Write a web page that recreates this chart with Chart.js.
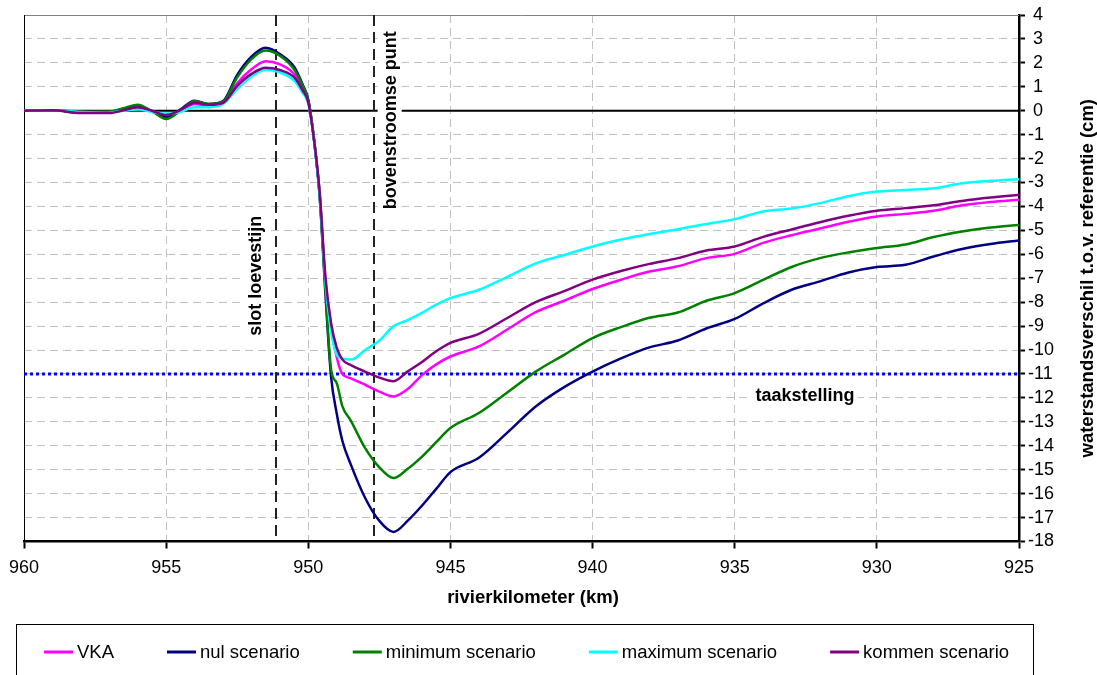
<!DOCTYPE html>
<html>
<head>
<meta charset="utf-8">
<script src="https://cdn.jsdelivr.net/npm/chart.js@4.4.1/dist/chart.umd.min.js"></script>
<style>
  body { margin: 0; background: #fff; }
  canvas { display: block; }
</style>
</head>
<body>
<canvas id="myChart" width="1097" height="675"></canvas>
<script>
const ctx = document.getElementById('myChart');

// rivierkilometer (x) and waterstandsverschil (cm) per scenario
const km = [960, 959, 958, 957, 956.5, 956, 955.5, 955, 954.5, 954, 953.5, 953, 952.5, 952, 951.5, 951,
    950.5, 950.2, 950, 949.8, 949.6, 949.4, 949.2, 949, 948.8, 948.5, 948, 947.5, 947, 946.5, 946, 945.5,
    945, 944, 943, 942, 941, 940, 939, 938, 937, 936, 935, 934, 933, 932, 931, 930, 929, 928, 927, 926, 925];

const vka = [0, 0.02, -0.05, -0.05, 0.05, 0.15, -0.02, -0.22, 0, 0.28, 0.22, 0.32, 1.15, 1.73, 2.07, 1.94,
    1.54, 0.95, 0.4, -1.2, -3.5, -7.1, -9.0, -10.3, -11.0, -11.18, -11.45, -11.74, -11.94, -11.63, -11.05, -10.6,
    -10.27, -9.85, -9.14, -8.42, -7.94, -7.45, -7.06, -6.72, -6.5, -6.16, -5.98, -5.52, -5.2, -4.92, -4.64, -4.42,
    -4.31, -4.18, -3.95, -3.81, -3.72];

const nul = [0, 0.02, -0.06, -0.05, 0.08, 0.2, -0.02, -0.28, 0.05, 0.42, 0.28, 0.4, 1.5, 2.26, 2.63, 2.37,
    1.84, 1.1, 0.45, -1.2, -3.6, -7.6, -11.1, -12.65, -13.8, -14.8, -16.18, -17.14, -17.6, -17.13, -16.5, -15.8,
    -15.1, -14.5, -13.45, -12.36, -11.55, -10.9, -10.35, -9.89, -9.6, -9.1, -8.7, -8.05, -7.48, -7.13, -6.76, -6.53,
    -6.44, -6.09, -5.78, -5.57, -5.42];

const minimum = [0, 0.02, -0.04, -0.03, 0.1, 0.25, -0.02, -0.35, 0, 0.4, 0.28, 0.38, 1.4, 2.16, 2.52, 2.3,
    1.73, 1.05, 0.45, -1.2, -3.5, -7.4, -10.8, -11.38, -12.35, -12.96, -14.1, -14.9, -15.35, -14.96, -14.45, -13.85,
    -13.26, -12.63, -11.77, -10.9, -10.2, -9.5, -9.04, -8.65, -8.43, -7.94, -7.62, -7.07, -6.53, -6.16, -5.92, -5.74,
    -5.59, -5.28, -5.05, -4.88, -4.77];

const maximum = [0, 0.02, -0.05, -0.08, 0, 0.05, -0.05, -0.12, -0.05, 0.15, 0.15, 0.28, 0.9, 1.43, 1.71, 1.6,
    1.26, 0.75, 0.3, -1.2, -3.5, -7.1, -9.2, -10.2, -10.35, -10.4, -10.0, -9.6, -9.0, -8.75, -8.45, -8.1,
    -7.83, -7.48, -6.94, -6.38, -6.03, -5.67, -5.38, -5.15, -4.95, -4.73, -4.53, -4.21, -4.09, -3.86, -3.57, -3.38,
    -3.31, -3.24, -3.03, -2.93, -2.86];

const kommen = [0, 0.02, -0.1, -0.1, 0.02, 0.15, 0, -0.18, 0.03, 0.33, 0.25, 0.33, 1.04, 1.54, 1.8, 1.7,
    1.4, 0.85, 0.35, -1.2, -3.4, -6.9, -8.87, -9.9, -10.4, -10.63, -10.9, -11.15, -11.3, -10.89, -10.5, -10.05,
    -9.7, -9.32, -8.66, -8.0, -7.54, -7.06, -6.7, -6.4, -6.16, -5.84, -5.67, -5.27, -4.96, -4.66, -4.39, -4.18,
    -4.07, -3.95, -3.77, -3.63, -3.52];

const seriesNames = ['VKA', 'nul scenario', 'minimum scenario', 'maximum scenario', 'kommen scenario'];
const seriesData = [vka, nul, minimum, maximum, kommen];
const seriesColors = ['#ff00ff', '#000080', '#008000', '#00ffff', '#800080'];

const slotKm = 951.15;      // slot loevestijn
const bovenKm = 947.7;      // bovenstroomse punt
const taakstelling = -11;

const font = '"Liberation Sans", Arial, sans-serif';

function rotatedLabel(c, text, cx, cy) {
    c.save();
    c.translate(cx, cy);
    c.rotate(-Math.PI / 2);
    c.font = 'bold 18px ' + font;
    const w = c.measureText(text).width;
    c.fillStyle = '#fff';
    c.fillRect(-w / 2 - 3, -12, w + 6, 24);
    c.fillStyle = '#000';
    c.textAlign = 'center';
    c.textBaseline = 'middle';
    c.fillText(text, 0, 1);
    c.restore();
}

const extras = {
    id: 'extras',
    beforeDatasetsDraw(chart) {
        const c = chart.ctx;
        const a = chart.chartArea;
        const x = chart.scales.x;
        const y = chart.scales.y;
        c.save();

        // top and left frame
        c.lineWidth = 1;
        c.strokeStyle = '#808080';
        c.beginPath();
        c.moveTo(a.left, a.top + 0.5);
        c.lineTo(a.right, a.top + 0.5);
        c.stroke();
        c.strokeStyle = '#000';
        c.beginPath();
        c.moveTo(a.left + 0.5, a.top);
        c.lineTo(a.left + 0.5, a.bottom);
        c.stroke();

        // zero line
        const y0 = y.getPixelForValue(0);
        c.lineWidth = 2;
        c.beginPath();
        c.moveTo(a.left, y0);
        c.lineTo(a.right, y0);
        c.stroke();

        // taakstelling
        const yt = y.getPixelForValue(taakstelling);
        c.strokeStyle = '#0000ff';
        c.lineWidth = 3;
        c.setLineDash([3, 3]);
        c.beginPath();
        c.moveTo(a.left, yt);
        c.lineTo(a.right, yt);
        c.stroke();

        // locations
        c.strokeStyle = '#222';
        c.lineWidth = 2;
        c.setLineDash([11, 6]);
        for (const k of [slotKm, bovenKm]) {
            const px = Math.round(x.getPixelForValue(k));
            c.beginPath();
            c.moveTo(px, a.top);
            c.lineTo(px, a.bottom);
            c.stroke();
        }
        c.setLineDash([]);
        c.restore();

        rotatedLabel(c, 'slot loevestijn', x.getPixelForValue(slotKm) - 21, y.getPixelForValue(-6.9));
        rotatedLabel(c, 'bovenstroomse punt', x.getPixelForValue(bovenKm) + 16, y.getPixelForValue(-0.4));

        c.save();
        c.font = 'bold 18px ' + font;
        const tx = x.getPixelForValue(932.53);
        const ty = y.getPixelForValue(-11.9);
        const tw = c.measureText('taakstelling').width;
        c.fillStyle = '#fff';
        c.fillRect(tx - tw / 2 - 3, ty - 11, tw + 6, 22);
        c.fillStyle = '#000';
        c.textAlign = 'center';
        c.textBaseline = 'middle';
        c.fillText('taakstelling', tx, ty + 1);
        c.restore();
    },
    afterDraw(chart) {
        const c = chart.ctx;
        const a = chart.chartArea;
        c.save();
        c.fillStyle = '#000';
        c.font = 'bold 18.5px ' + font;
        c.textAlign = 'center';
        c.textBaseline = 'middle';
        c.fillText('rivierkilometer (km)', 533, 598);

        c.translate(1088, (a.top + a.bottom) / 2);
        c.rotate(-Math.PI / 2);
        c.fillText('waterstandsverschil t.o.v. referentie (cm)', 0, 0);
        c.restore();

        // legend
        c.save();
        c.strokeStyle = '#000';
        c.lineWidth = 1;
        c.strokeRect(16.5, 624.5, 1017, 100);
        c.font = '18.5px ' + font;
        c.textBaseline = 'middle';
        c.fillStyle = '#000';
        let lx = 44;
        const ly = 652;
        seriesNames.forEach((name, i) => {
            c.strokeStyle = seriesColors[i];
            c.lineWidth = 3;
            c.beginPath();
            c.moveTo(lx, ly);
            c.lineTo(lx + 29, ly);
            c.stroke();
            c.fillText(name, lx + 33, ly + 1);
            lx += 33 + c.measureText(name).width + 53;
        });
        c.restore();
    }
};

new Chart(ctx, {
    type: 'line',
    data: {
        datasets: seriesNames.map((name, i) => ({
            label: name,
            data: km.map((k, j) => ({ x: k, y: seriesData[i][j] })),
            borderColor: seriesColors[i],
            backgroundColor: seriesColors[i],
            borderWidth: 2.5,
            pointRadius: 0,
            cubicInterpolationMode: 'monotone',
            order: seriesNames.length - i
        }))
    },
    options: {
        responsive: false,
        animation: false,
        devicePixelRatio: 1,
        layout: { padding: { left: 24, top: 15, right: 0, bottom: 53.5 } },
        plugins: {
            legend: { display: false },
            tooltip: { enabled: false }
        },
        scales: {
            x: {
                type: 'linear',
                reverse: true,
                min: 925,
                max: 960,
                afterFit: (s) => { s.height = 80; },
                ticks: {
                    stepSize: 5,
                    autoSkip: false,
                    color: '#000',
                    font: { family: font, size: 18 },
                    padding: 9,
                    maxRotation: 0
                },
                grid: {
                    color: (c) => (c.tick && (c.tick.value === 960 || c.tick.value === 925)) ? 'rgba(0,0,0,0)' : '#c0c0c0',
                    lineWidth: 1,
                    tickLength: 7,
                    tickColor: '#000',
                    tickWidth: 2
                },
                border: { color: '#000', width: 2.5, dash: [8, 5] }
            },
            y: {
                position: 'right',
                min: -18,
                max: 4,
                afterFit: (s) => { s.width = 78; },
                ticks: {
                    stepSize: 1,
                    autoSkip: false,
                    color: '#000',
                    font: { family: font, size: 18 },
                    padding: 3,
                    callback: (v) => v >= 0 ? ' ' + v : String(v)
                },
                grid: {
                    color: (c) => (c.tick && [4, 0, -18].includes(c.tick.value)) ? 'rgba(0,0,0,0)' : '#c0c0c0',
                    lineWidth: 1,
                    tickLength: 6,
                    tickColor: '#000',
                    tickWidth: 2
                },
                border: { color: '#000', width: 2.5, dash: [8, 5] }
            }
        }
    },
    plugins: [extras]
});
</script>
</body>
</html>
